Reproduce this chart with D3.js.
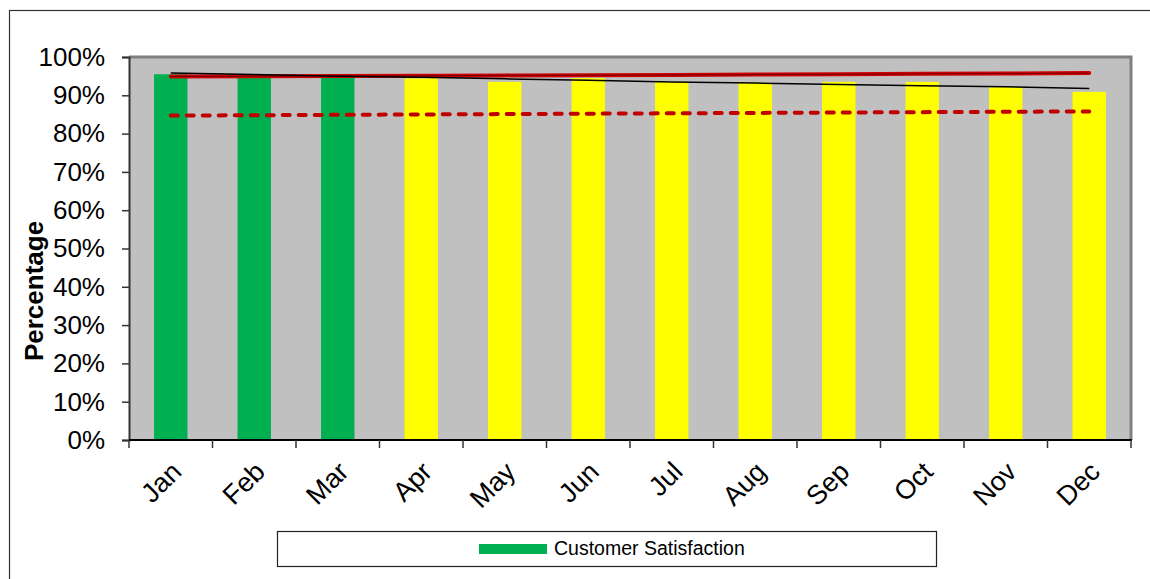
<!DOCTYPE html>
<html>
<head>
<meta charset="utf-8">
<script src="https://cdn.jsdelivr.net/npm/d3@7"></script>
<style>
  html, body { margin: 0; padding: 0; background: #fff; }
  svg { display: block; font-family: "Liberation Sans", Arial, sans-serif; }
</style>
</head>
<body>
<svg id="chart" width="1150" height="579"></svg>
<script>
// ---- Data ----
const months = ["Jan","Feb","Mar","Apr","May","Jun","Jul","Aug","Sep","Oct","Nov","Dec"];
const satisfaction = [0.955, 0.949, 0.949, 0.944, 0.935, 0.945, 0.935, 0.933, 0.935, 0.935, 0.921, 0.909];
const barColors = ["#00B050","#00B050","#00B050","#FFFF00","#FFFF00","#FFFF00","#FFFF00","#FFFF00","#FFFF00","#FFFF00","#FFFF00","#FFFF00"];
const trendLine = [0.958, 0.954, 0.950, 0.947, 0.943, 0.939, 0.935, 0.932, 0.928, 0.925, 0.922, 0.918];
const targetLine = [0.949, 0.950, 0.9505, 0.951, 0.952, 0.9525, 0.953, 0.954, 0.955, 0.956, 0.957, 0.958];
const lowerLine = [0.847, 0.848, 0.849, 0.850, 0.851, 0.852, 0.853, 0.854, 0.855, 0.856, 0.857, 0.858];
const yTicks = [0, 0.1, 0.2, 0.3, 0.4, 0.5, 0.6, 0.7, 0.8, 0.9, 1.0];
const legendLabel = "Customer Satisfaction";
const yTitle = "Percentage";

// ---- Layout ----
const svg = d3.select("#chart");
const plot = { left: 129, right: 1131, top: 57, bottom: 440 };

// outer chart border
svg.append("rect").attr("x", 9.5).attr("y", 10.5).attr("width", 1160).attr("height", 600)
  .attr("fill", "#fff").attr("stroke", "#333").attr("stroke-width", 1.2);

const x = d3.scaleBand().domain(months).range([plot.left, plot.right])
  .paddingInner(0.6).paddingOuter(0.3);
const y = d3.scaleLinear().domain([0, 1]).range([plot.bottom, plot.top]);

// plot area
svg.append("rect").attr("x", plot.left).attr("y", plot.top)
  .attr("width", plot.right - plot.left).attr("height", plot.bottom - plot.top)
  .attr("fill", "#C0C0C0");
// grey border top and right
svg.append("path")
  .attr("d", `M${plot.left},${plot.top} H${plot.right} V${plot.bottom}`)
  .attr("fill", "none").attr("stroke", "#808080").attr("stroke-width", 3);

// bars
svg.append("g").selectAll("rect").data(months).join("rect")
  .attr("x", d => x(d))
  .attr("width", x.bandwidth())
  .attr("y", (d, i) => y(satisfaction[i]))
  .attr("height", (d, i) => y(0) - y(satisfaction[i]))
  .attr("fill", (d, i) => barColors[i]);

// lines
const cx = d => x(d) + x.bandwidth() / 2;
const lineGen = vals => d3.line().x((d, i) => cx(months[i])).y(d => y(d))(vals);

svg.append("path").attr("d", lineGen(lowerLine))
  .attr("fill", "none").attr("stroke", "#C00000").attr("stroke-width", 4)
  .attr("stroke-dasharray", "7,9").attr("stroke-linecap", "round");
svg.append("path").attr("d", lineGen(targetLine))
  .attr("fill", "none").attr("stroke", "#D00000").attr("stroke-width", 4)
  .attr("stroke-linecap", "round");
svg.append("path").attr("d", lineGen(targetLine))
  .attr("fill", "none").attr("stroke", "#700000").attr("stroke-width", 1);
svg.append("path").attr("d", lineGen(trendLine))
  .attr("fill", "none").attr("stroke", "#000").attr("stroke-width", 1.5);

// Y axis
const yAxis = svg.append("g").attr("transform", `translate(${plot.left},0)`)
  .call(d3.axisLeft(y).tickValues(yTicks).tickFormat(d3.format(".0%")).tickSize(7).tickPadding(17));
yAxis.select(".domain").attr("stroke", "#333").attr("stroke-width", 2);
yAxis.selectAll(".tick line").attr("stroke", "#333").attr("stroke-width", 1.5);
yAxis.selectAll(".tick text").attr("font-size", 26).attr("fill", "#000")
  .attr("font-family", "Liberation Sans, Arial, sans-serif");

// X axis baseline
svg.append("line").attr("x1", plot.left).attr("x2", plot.right + 1)
  .attr("y1", plot.bottom).attr("y2", plot.bottom)
  .attr("stroke", "#000").attr("stroke-width", 2);
// x tick marks at category boundaries
const boundaries = months.map(m => x(m) - x.step() * 0.3).concat([plot.right]);
svg.append("g").selectAll("line").data(boundaries).join("line")
  .attr("x1", d => d).attr("x2", d => d)
  .attr("y1", plot.bottom).attr("y2", plot.bottom + 8)
  .attr("stroke", "#333").attr("stroke-width", 1.5);

// x labels rotated
svg.append("g").selectAll("text").data(months).join("text")
  .attr("transform", d => `translate(${cx(d) - 1},${plot.bottom + 20}) rotate(-45)`)
  .attr("text-anchor", "end")
  .attr("dy", "0.7em")
  .attr("font-size", 27)
  .attr("fill", "#000")
  .text(d => d);

// Y title
svg.append("text")
  .attr("transform", `translate(43,291) rotate(-90)`)
  .attr("text-anchor", "middle")
  .attr("font-size", 26).attr("font-weight", "bold").attr("fill", "#000")
  .text(yTitle);

// legend
svg.append("rect").attr("x", 277.5).attr("y", 531.5).attr("width", 659).attr("height", 35)
  .attr("fill", "#fff").attr("stroke", "#222").attr("stroke-width", 1.2);
svg.append("rect").attr("x", 479).attr("y", 544).attr("width", 68).attr("height", 10)
  .attr("fill", "#00B050");
svg.append("text").attr("x", 554).attr("y", 555).attr("font-size", 19.5).attr("fill", "#000")
  .text(legendLabel);
</script>
</body>
</html>
